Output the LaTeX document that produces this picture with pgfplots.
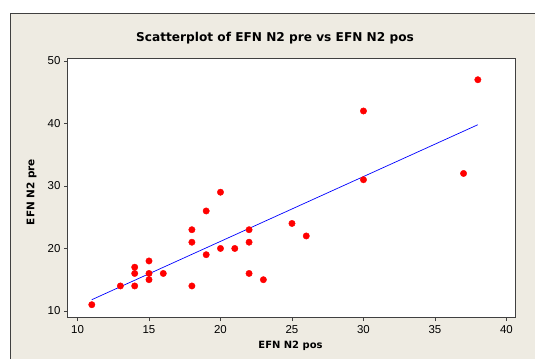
\documentclass[border=0pt]{standalone}
\usepackage{pgfplots}
\pgfplotsset{compat=1.18}
\usepackage{fontspec}
\setmainfont{DejaVu Sans}
\newfontfamily\tickfont{Liberation Sans}
\definecolor{panel}{RGB}{238,235,226}
\definecolor{framegray}{RGB}{64,64,64}
\begin{document}
\begin{tikzpicture}[x=1bp,y=1bp]
\useasboundingbox (0,0) rectangle (535,359);
\fill[white] (0,0) rectangle (535,359);
\fill[panel] (10,0) rectangle (535,346);
\draw[framegray, line width=1bp] (10.5,0) -- (10.5,345.5) -- (535,345.5);
\begin{axis}[
 at={(67.5bp,41.5bp)}, anchor=south west,
 scale only axis, width=447.5bp, height=259bp,
 xmin=9.3, xmax=40.6, ymin=8.95, ymax=50.4,
 xtick={10,15,...,40}, ytick={10,20,...,50},
 tick align=outside, tick pos=left, major tick length=3.5bp,
 axis background/.style={fill=white},
 axis line style={framegray, line width=0.8bp},
 every tick/.style={framegray, line width=0.8bp},
 ticklabel style={font=\tickfont\fontsize{11.5}{12}\selectfont, text=black},
 xticklabel style={yshift=-1bp},
 /pgf/number format/assume math mode=true,
 clip=false,
]
\addplot[only marks, mark=*, mark size=3.2bp, mark options={draw=red, fill=red}] coordinates {
(11,11) (13,14) (14,14) (14,16) (14,17) (15,15) (15,16) (15,18) (16,16)
(18,14) (18,21) (18,23) (19,19) (19,26) (20,20) (20,29) (21,20)
(22,16) (22,21) (22,23) (23,15) (25,24) (26,22) (30,31) (30,42)
(37,32) (38,47)
};
\addplot[blue, line width=0.7bp] coordinates {(11,11.8) (38,39.8)};
\end{axis}
\node[font=\bfseries\fontsize{12.2}{14}\selectfont] at (275,321) {Scatterplot of EFN N2 pre vs EFN N2 pos};
\node[font=\bfseries\fontsize{10}{12}\selectfont] at (290.5,13.3) {EFN N2 pos};
\node[font=\bfseries\fontsize{10.5}{12}\selectfont, rotate=90] at (31.7,167) {EFN N2 pre};
\end{tikzpicture}
\end{document}
